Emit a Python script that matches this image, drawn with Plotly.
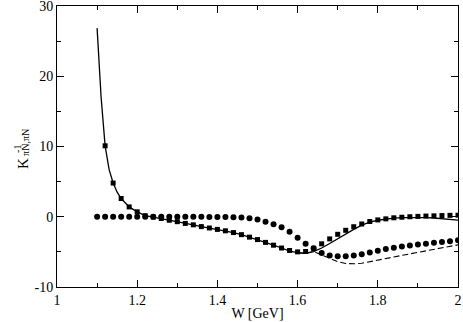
import plotly.graph_objects as go

# squares (solid-line model points)
w_sq = [1.12, 1.14, 1.16, 1.18, 1.20, 1.22, 1.24, 1.26, 1.28, 1.30,
        1.32, 1.34, 1.36, 1.38, 1.40, 1.42, 1.44, 1.46, 1.48, 1.50,
        1.52, 1.54, 1.56, 1.58, 1.60, 1.62, 1.64, 1.66, 1.68, 1.70,
        1.72, 1.74, 1.76, 1.78, 1.80, 1.82, 1.84, 1.86, 1.88, 1.90,
        1.92, 1.94, 1.96, 1.98, 2.00]
k_sq = [10.1, 4.8, 2.6, 1.4, 0.7, 0.15, -0.05, -0.25, -0.5, -0.7,
        -0.95, -1.15, -1.4, -1.6, -1.8, -2.0, -2.25, -2.55, -2.9, -3.25,
        -3.65, -4.05, -4.45, -4.8, -5.0, -4.95, -4.5, -3.85, -3.15, -2.5,
        -1.93, -1.42, -1.03, -0.68, -0.45, -0.3, -0.15, -0.07, 0.0, 0.05,
        0.1, 0.13, 0.17, 0.2, 0.22]

# circles
w_ci = [1.10, 1.12, 1.14, 1.16, 1.18, 1.20, 1.22, 1.24, 1.26, 1.28,
        1.30, 1.32, 1.34, 1.36, 1.38, 1.40, 1.42, 1.44, 1.46, 1.48,
        1.50, 1.52, 1.54, 1.56, 1.58, 1.60, 1.62, 1.64, 1.66, 1.68,
        1.70, 1.72, 1.74, 1.76, 1.78, 1.80, 1.82, 1.84, 1.86, 1.88,
        1.90, 1.92, 1.94, 1.96, 1.98, 2.00]
k_ci = [0, 0, 0, 0, 0, 0, 0, 0, 0, 0,
        0, 0, 0, 0, -0.02, -0.03, -0.05, -0.08, -0.12, -0.22,
        -0.4, -0.7, -1.05, -1.5, -2.15, -3.0, -3.85, -4.5, -5.15, -5.5,
        -5.62, -5.62, -5.52, -5.35, -5.08, -4.83, -4.6, -4.43, -4.25, -4.1,
        -3.96, -3.83, -3.69, -3.58, -3.47, -3.35]

# solid curve
w_solid = [1.10, 1.11, 1.12, 1.13, 1.14, 1.15, 1.16, 1.17, 1.18, 1.20,
           1.22, 1.24, 1.26, 1.28, 1.30, 1.32, 1.34, 1.36, 1.38, 1.40,
           1.42, 1.44, 1.46, 1.48, 1.50, 1.52, 1.54, 1.56, 1.58, 1.60,
           1.62, 1.64, 1.66, 1.68, 1.70, 1.72, 1.74, 1.76, 1.78, 1.80,
           1.82, 1.84, 1.86, 1.88, 1.90, 1.92, 1.94, 1.96, 1.98, 2.00]
k_solid = [26.85, 17.0, 10.1, 6.7, 4.8, 3.5, 2.6, 1.95, 1.4, 0.7,
           0.15, -0.05, -0.25, -0.5, -0.7, -0.95, -1.15, -1.4, -1.6, -1.8,
           -2.0, -2.25, -2.55, -2.9, -3.25, -3.65, -4.05, -4.45, -4.88, -5.12,
           -5.2, -4.95, -4.45, -3.8, -3.1, -2.45, -1.8, -1.2, -0.78, -0.5,
           -0.32, -0.2, -0.13, -0.1, -0.1, -0.12, -0.18, -0.26, -0.36, -0.48]

# dashed curve (same as solid below ~1.64)
w_dash = [1.60, 1.62, 1.64, 1.66, 1.68, 1.70, 1.72, 1.74, 1.76, 1.78,
          1.80, 1.82, 1.84, 1.86, 1.88, 1.90, 1.92, 1.94, 1.96, 1.98, 2.00]
k_dash = [-5.12, -5.2, -4.95, -5.45, -6.0, -6.4, -6.65, -6.7, -6.62, -6.42,
          -6.18, -5.95, -5.73, -5.5, -5.3, -5.1, -4.9, -4.68, -4.45, -4.22, -4.0]

x_ticks = [1, 1.2, 1.4, 1.6, 1.8, 2]
x_labels = ["1", "1.2", "1.4", "1.6", "1.8", "2"]
y_ticks = [-10, 0, 10, 20, 30]
y_labels = ["-10", "0", "10", "20", "30"]

serif = "Liberation Serif"

fig = go.Figure()
fig.add_trace(go.Scatter(x=w_solid, y=k_solid, mode="lines",
                         line=dict(color="black", width=1.3)))
fig.add_trace(go.Scatter(x=w_dash, y=k_dash, mode="lines",
                         line=dict(color="black", width=1.1, dash="6px,3px")))
fig.add_trace(go.Scatter(x=w_sq, y=k_sq, mode="markers",
                         marker=dict(symbol="square", size=5, color="black")))
fig.add_trace(go.Scatter(x=w_ci, y=k_ci, mode="markers",
                         marker=dict(symbol="circle", size=6, color="black")))

fig.update_layout(
    width=463, height=322,
    margin=dict(l=57, r=5, t=6, b=35),
    plot_bgcolor="white", paper_bgcolor="white",
    showlegend=False,
    font=dict(family=serif, size=14, color="black"),
)
fig.update_xaxes(
    range=[1, 2], tickvals=x_ticks, ticktext=x_labels,
    automargin=False, ticklabeloverflow="allow",
    showgrid=False, zeroline=False,
    showline=True, linecolor="black", linewidth=1, mirror="allticks",
    ticks="inside", ticklen=7, tickwidth=1, tickcolor="black",
    tickfont=dict(family=serif, size=14, color="black"),
    minor=dict(tickvals=[1.1, 1.3, 1.5, 1.7, 1.9], ticks="inside", ticklen=4,
               tickcolor="black"),
    title=dict(text="W [GeV]", font=dict(family=serif, size=14), standoff=1),
)
fig.update_yaxes(
    range=[-10, 30], tickvals=y_ticks, ticktext=y_labels,
    automargin=False, ticklabeloverflow="allow",
    showgrid=False, zeroline=False,
    showline=True, linecolor="black", linewidth=1, mirror="allticks",
    ticks="inside", ticklen=7, tickwidth=1, tickcolor="black",
    tickfont=dict(family=serif, size=14, color="black"),
    minor=dict(tickvals=[-5, 5, 15, 25], ticks="inside", ticklen=4, tickcolor="black"),
)

# y title: K with stacked super/subscript
fig.add_annotation(text="K", xref="paper", yref="paper", x=-0.108, y=0.44,
                   textangle=-90, showarrow=False, font=dict(family=serif, size=15))
fig.add_annotation(text="-1", xref="paper", yref="paper", x=-0.117, y=0.49,
                   textangle=-90, showarrow=False, font=dict(family=serif, size=10))
fig.add_annotation(text="πN,πN", xref="paper", yref="paper", x=-0.097, y=0.515,
                   textangle=-90, showarrow=False, font=dict(family=serif, size=10))

# drop the default page margin so the figure sits at the window corner
fig.write_html("out.html", config={"displayModeBar": False},
               post_script="document.body.style.margin='0px';")
